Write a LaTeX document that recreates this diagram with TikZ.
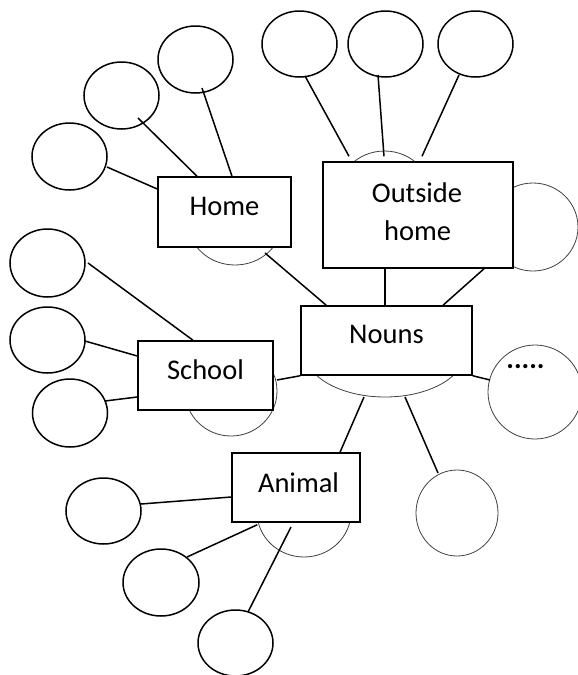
\documentclass[tikz,border=0pt]{standalone}
\usepackage{fontspec}
\setmainfont{Carlito}
\usetikzlibrary{shapes.geometric,calc}
\begin{document}
\begin{tikzpicture}[x=1pt,y=-1pt,
  leaf/.style={draw=black, line width=1.5pt, ellipse, inner sep=0pt},
  hub/.style={draw=black!75, line width=0.8pt, ellipse, inner sep=0pt},
  link/.style={line width=1.5pt},
  wordbox/.style={draw=black, line width=1.5pt, fill=white, rectangle, inner sep=0pt},
  word/.style={font=\fontsize{28.5}{34}\selectfont, inner sep=0pt, anchor=base}]
\useasboundingbox (0,0) rectangle (578,675);

% thin hub ellipses sitting behind the word boxes
\node[hub, minimum width=94pt, minimum height=86pt] (homehub) at (235,222) {};
\node[hub, minimum width=98pt, minimum height=98pt] (outhub) at (384.5,200) {};
\node[hub, minimum width=160pt, minimum height=90pt] (nounhub) at (385,352) {};
\node[hub, minimum width=92pt, minimum height=90pt] (schoolhub) at (231,391) {};
\node[hub, minimum width=94pt, minimum height=90pt] (animalhub) at (304,512) {};

% thin extra ellipses on the right
\node[hub, minimum width=90pt, minimum height=88pt] (outright) at (533,227) {};
\node[hub, minimum width=94pt, minimum height=94pt] (more) at (535,392) {};
\node[hub, minimum width=82pt, minimum height=86pt] (nounleaf) at (457,513) {};

% empty answer ellipses
\node[leaf, minimum width=75pt, minimum height=67pt] (hI) at (69.5,156.5) {};
\node[leaf, minimum width=75pt, minimum height=67pt] (hJ) at (121.5,95.5) {};
\node[leaf, minimum width=75pt, minimum height=67pt] (hK) at (195.5,59.5) {};
\node[leaf, minimum width=75pt, minimum height=66pt] (hL) at (299.5,44) {};
\node[leaf, minimum width=75pt, minimum height=66pt] (hM) at (385.5,44) {};
\node[leaf, minimum width=75pt, minimum height=66pt] (hN) at (475.5,44) {};
\node[leaf, minimum width=75pt, minimum height=68pt] (hA) at (47.5,263) {};
\node[leaf, minimum width=75pt, minimum height=66pt] (hB) at (47.5,340) {};
\node[leaf, minimum width=75pt, minimum height=68pt] (hC) at (70,413) {};
\node[leaf, minimum width=75pt, minimum height=66pt] (hD) at (103.5,511) {};
\node[leaf, minimum width=76pt, minimum height=67pt] (hE) at (161,582.5) {};
\node[leaf, minimum width=75pt, minimum height=66pt] (hF) at (235.5,643) {};

% word boxes
\node[wordbox, minimum width=133pt, minimum height=70pt] (home) at (224.5,212) {};
\node[wordbox, minimum width=190pt, minimum height=106pt] (outside) at (418,215) {};
\node[wordbox, minimum width=171pt, minimum height=69pt] (nouns) at (386.5,340.5) {};
\node[wordbox, minimum width=135pt, minimum height=69pt] (school) at (205.5,375.5) {};
\node[wordbox, minimum width=128pt, minimum height=69pt] (animal) at (296,487.5) {};

% connectors
\draw[link] ($(hI.center)+(37.5,10.5)$) -- ($(home.west)+(0,-23)$);
\draw[link] ($(hJ.center)+(16.5,22.5)$) -- ($(home.north)+(-27.5,0)$);
\draw[link] ($(hK.center)+(6.5,28.5)$) -- ($(home.north)+(7.5,0)$);
\draw[link] ($(homehub.center)+(30,31)$) -- ($(nouns.north west)+(26,0)$);
\draw[link] ($(hL.center)+(5.5,32)$) -- ($(outside.north)+(-69,-5)$);
\draw[link] ($(hM.center)+(-7.5,31)$) -- ($(outside.north)+(-34,-5)$);
\draw[link] ($(hN.center)+(-16.5,31)$) -- ($(outside.north)+(4,-5)$);
\draw[link] ($(outside.south)+(-33,0)$) -- ($(nouns.north)+(-1.5,0)$);
\draw[link] ($(nouns.north)+(56.5,0)$) -- ($(outside.south)+(66,0)$);
\draw[link] (nouns.south west) -- ($(schoolhub.center)+(46,-11)$);
\draw[link] (nouns.south east) -- ($(more.center)+(-45,-12)$);
\draw[link] ($(nounhub.center)+(-21,45)$) -- ($(animal.north)+(44,0)$);
\draw[link] ($(nounhub.center)+(20,45)$) -- ($(nounleaf.center)+(-19,-40)$);
\draw[link] ($(hA.center)+(40.5,0)$) -- ($(school.north)+(-12.5,0)$);
\draw[link] ($(hB.center)+(37.5,1)$) -- ($(school.west)+(0,-19.5)$);
\draw[link] ($(hC.center)+(35,-12)$) -- ($(school.west)+(0,21.5)$);
\draw[link] ($(hD.center)+(37.5,-7)$) -- ($(animal.west)+(0,9.5)$);
\draw[link] ($(hE.center)+(26,-25.5)$) -- ($(animal.south west)+(26,2)$);
\draw[link] ($(hF.center)+(12.5,-31)$) -- ($(animalhub.center)+(-13,15)$);

% labels
\node[word] (hometext) at (224.5,215.7) {Home};
\node[word] (outtext1) at (417,202) {Outside};
\node[word] (outtext2) at (417.7,240) {home};
\node[word] (nountext) at (386.5,343) {Nouns};
\node[word] (schooltext) at (205.5,379) {School};
\node[word] (animaltext) at (298.5,492) {Animal};
\node[word, font=\fontsize{28.5}{34}\selectfont\bfseries] (moretext) at (525.5,368) {.....};
\end{tikzpicture}
\end{document}
